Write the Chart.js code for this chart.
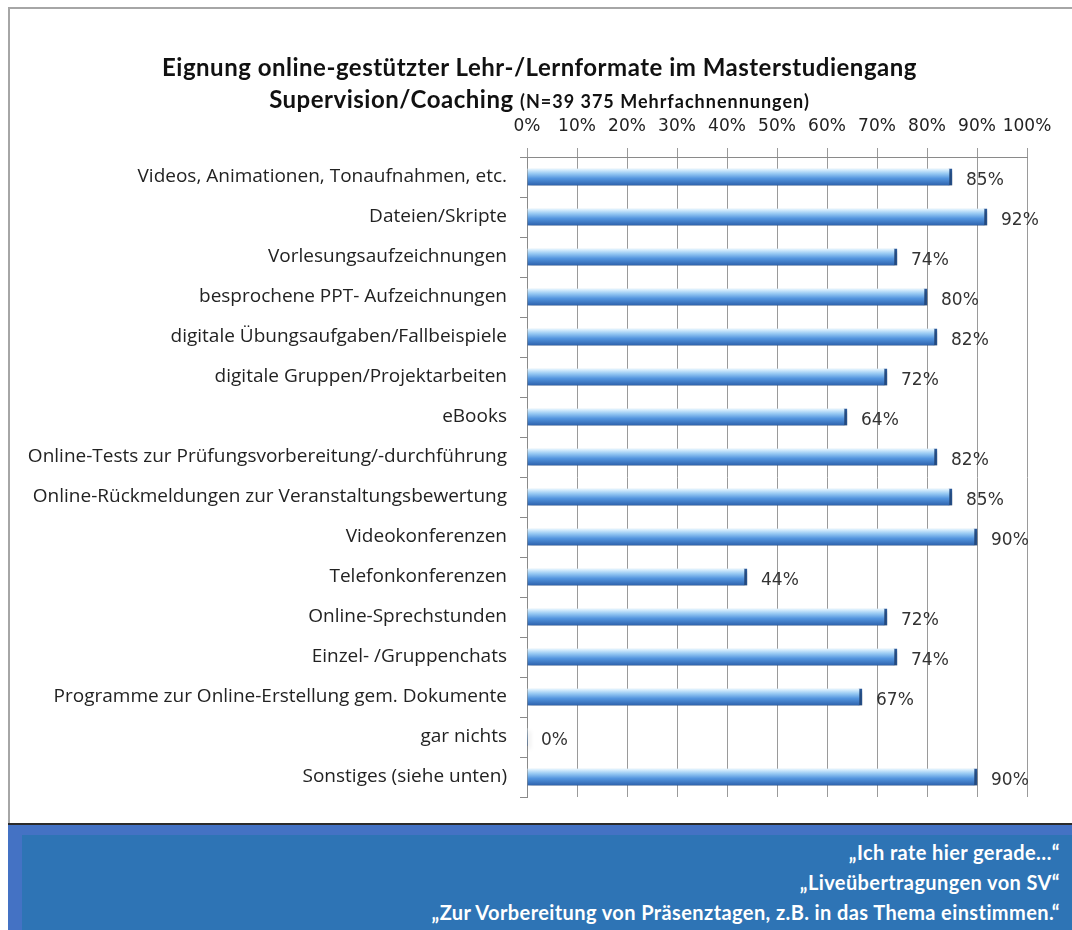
<!DOCTYPE html>
<html>
<head>
<meta charset="utf-8">
<script src="https://cdn.jsdelivr.net/npm/chart.js"></script>
<style>
  body{margin:0;background:#fff;width:1072px;height:930px;overflow:hidden;position:relative;}
  #frame{position:absolute;left:8px;top:7px;width:1100px;height:830px;border-left:2px solid #a6a6a6;border-top:2px solid #a6a6a6;}
  #title{position:absolute;left:0;top:51px;width:1079px;text-align:center;font:bold 24px Lato;letter-spacing:0.5px;line-height:32px;color:#111;}
  #title span{font-size:18px;letter-spacing:1px;}
  #chart{position:absolute;left:0;top:0;}
  #box{position:absolute;left:8px;top:823px;width:1064px;height:107px;border-top:2px solid #2b2b2b;background:#4472c4;}
  #inner{position:absolute;left:14px;top:10px;right:0;bottom:0;background:#2e74b5;
    text-align:right;padding:2px 12px 0 0;font:bold 20px Lato;letter-spacing:0.4px;line-height:30px;color:#fff;}
</style>
</head>
<body>
<div id="frame"></div>
<canvas id="chart" width="1072" height="823"></canvas>
<div id="title">
  <div>Eignung online-gestützter Lehr-/Lernformate im Masterstudiengang</div>
  <div>Supervision/Coaching <span>(N=39 375 Mehrfachnennungen)</span></div>
</div>
<div id="box"><div id="inner">
  <div>„Ich rate hier gerade…“</div>
  <div>„Liveübertragungen von SV“</div>
  <div>„Zur Vorbereitung von Präsenztagen, z.B. in das Thema einstimmen.“</div>
</div></div>

<script>
// =====================
// DATA
// =====================

const categories = [
  "Videos, Animationen, Tonaufnahmen, etc.",
  "Dateien/Skripte",
  "Vorlesungsaufzeichnungen",
  "besprochene PPT- Aufzeichnungen",
  "digitale Übungsaufgaben/Fallbeispiele",
  "digitale Gruppen/Projektarbeiten",
  "eBooks",
  "Online-Tests zur Prüfungsvorbereitung/-durchführung",
  "Online-Rückmeldungen zur Veranstaltungsbewertung",
  "Videokonferenzen",
  "Telefonkonferenzen",
  "Online-Sprechstunden",
  "Einzel- /Gruppenchats",
  "Programme zur Online-Erstellung gem. Dokumente",
  "gar nichts",
  "Sonstiges (siehe unten)"
];

const values = [85, 92, 74, 80, 82, 72, 64, 82, 85, 90, 44, 72, 74, 67, 0, 90];

const xTicks = [0, 10, 20, 30, 40, 50, 60, 70, 80, 90, 100];

const catFont = {family:"Open Sans", size:19};
const numFont = {family:"DejaVu Sans", size:17};


// =====================
// PLUGINS
// =====================

const shadow = {
  id:"shadow",
  beforeDatasetsDraw(chart){
    const c = chart.ctx;
    c.save();
    c.shadowColor = "rgba(0,0,0,0.35)";
    c.shadowOffsetX = 2;
    c.shadowOffsetY = 3;
    c.shadowBlur = 4;
  },
  afterDatasetsDraw(chart){
    chart.ctx.restore();
  }
};

const valueLabels = {
  id:"valueLabels",
  afterDraw(chart){
    const c = chart.ctx;
    const meta = chart.getDatasetMeta(0);
    c.save();
    c.font = "17px 'DejaVu Sans'";
    c.fillStyle = "#333";
    c.textAlign = "left";
    c.textBaseline = "middle";
    meta.data.forEach((bar, i) => {
      c.fillText(values[i] + "%", bar.x + 14, bar.y + 4);
    });
    c.restore();
  }
};


// =====================
// CHART
// =====================

function barFill(ctx){
  const chart = ctx.chart;
  const y = chart.scales.y;
  const mid = y ? y.getPixelForValue(ctx.dataIndex) : NaN;
  if(!isFinite(mid)) return "#4a8ad8";
  const g = chart.ctx.createLinearGradient(0, mid - 8, 0, mid + 9);
  g.addColorStop(0, "#e4f4fe");
  g.addColorStop(0.25, "#9ccdf4");
  g.addColorStop(0.55, "#5496df");
  g.addColorStop(1, "#2a5ea8");
  return g;
}

new Chart(document.getElementById("chart"), {
  type:"bar",
  data:{
    labels:categories,
    datasets:[{
      data:values,
      backgroundColor:barFill,
      borderColor:"#2c5c9e",
      borderWidth:{top:0, bottom:0, left:0, right:3},
      borderSkipped:false,
      barThickness:17
    }]
  },
  options:{
    indexAxis:"y",
    responsive:false,
    devicePixelRatio:1,
    animation:false,
    layout:{padding:{top:0, left:0, right:45, bottom:26}},
    plugins:{
      legend:{display:false},
      tooltip:{enabled:false}
    },
    scales:{
      x:{
        position:"top",
        min:0,
        max:100,
        afterFit(scale){ scale.height = 157; },
        afterBuildTicks(scale){ scale.ticks = xTicks.map(v => ({value:v})); },
        ticks:{
          callback:v => v + "%",
          font:numFont,
          color:"#222",
          padding:11,
          maxRotation:0,
          autoSkip:false
        },
        grid:{color:"#9a9a9a", tickLength:9, lineWidth:1},
        border:{display:true, color:"#8a8a8a"}
      },
      y:{
        afterFit(scale){ scale.width = 527; },
        ticks:{font:catFont, color:"#222", padding:13, autoSkip:false},
        grid:{drawOnChartArea:false, tickLength:7, color:"#8a8a8a", offset:true},
        border:{display:true, color:"#8a8a8a"}
      }
    }
  },
  plugins:[shadow, valueLabels]
});
</script>
</body>
</html>
